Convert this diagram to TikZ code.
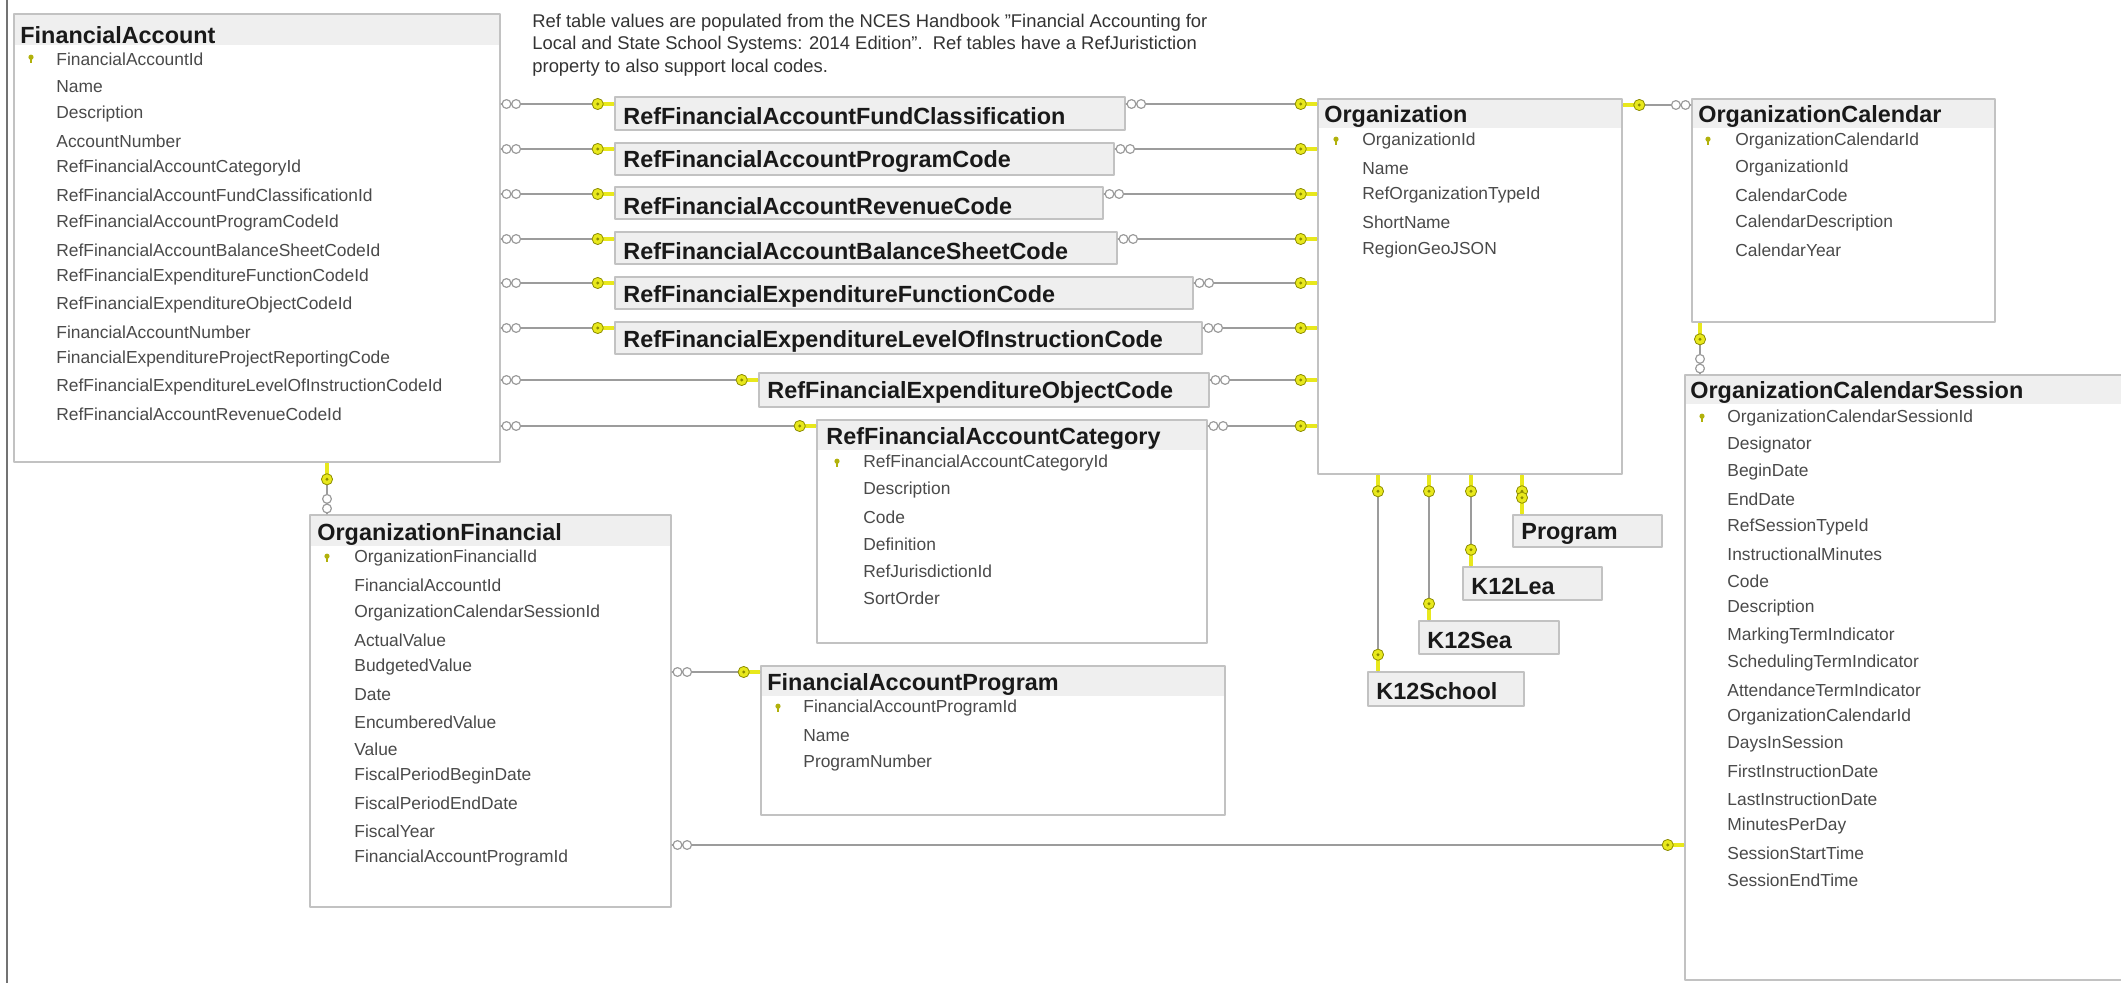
\documentclass[tikz,border=0pt]{standalone}
\usepackage{fontspec}
\setmainfont{Liberation Sans}
\usetikzlibrary{fit,calc}

\definecolor{keyyel}{HTML}{E8E81C}
\definecolor{keyedge}{HTML}{8C8C00}
\definecolor{relgray}{HTML}{9C9C9C}
\definecolor{boxgray}{HTML}{C2C2C2}
\definecolor{hdrgray}{HTML}{EFEFEF}
\definecolor{fldtext}{HTML}{4A4A4A}

\tikzset{
  tbl/.style={draw=boxgray, line width=1.3pt, fill=white, inner sep=0pt},
  reftbl/.style={tbl, fill=hdrgray},
  ttl/.style={font=\fontsize{11.7}{13}\selectfont\bfseries, text=black!90, inner sep=0pt, anchor=west},
  fld/.style={font=\fontsize{8.7}{10}\selectfont, text=fldtext, inner sep=0pt, anchor=west},
  note/.style={font=\fontsize{9.2}{11.1}\selectfont, text=black!80, inner sep=0pt, align=left},
  rel/.style={draw=relgray, line width=1pt},
  keyend/.pic={
    \fill[keyyel] (0,-1.1pt) rectangle (-6.5pt,1.1pt);
    \filldraw[fill=keyyel, draw=keyedge, line width=0.4pt] (-8pt,0) circle (2.8pt);
    \fill[keyedge] (-8pt,0) circle (0.8pt);
  },
  infend/.pic={
    \filldraw[fill=white, draw=relgray, line width=0.6pt] (2.6pt,0) circle (2.2pt) (7.4pt,0) circle (2.2pt);
  },
  pkicon/.pic={
    \fill[keyedge!60!keyyel] (0,0.9pt) circle (1.3pt);
    \fill[keyedge!60!keyyel] (-0.45pt,0.9pt) rectangle (0.45pt,-2.2pt);
  },
}

\begin{document}
\begin{tikzpicture}[x=0.5pt, y=-0.5pt, line cap=round, line join=round]
\useasboundingbox (0,0) rectangle (2121,983);
\fill[white] (0,0) rectangle (2121,983);
\draw[black!55, line width=1.2pt] (7,0) -- (7,983);

\node[note, anchor=north west] (note) at (532,14) {Ref table values are populated from the NCES Handbook "Financial Accounting for\\Local and State School Systems: 2014 Edition".\ \ Ref tables have a RefJuristiction\\property to also support local codes.};

% FinancialAccount
\node[tbl, fit={(14,14) (500,462)}] (fa) {};
\fill[hdrgray] ($(fa.north west)+(2,2)$) rectangle ($(fa.north east)+(-2,32)$);
\node[ttl] (fa-t) at (20,35) {FinancialAccount};
\pic at (31,59) {pkicon};
\foreach \f [count=\i from 0] in {FinancialAccountId, Name, Description, AccountNumber, RefFinancialAccountCategoryId, RefFinancialAccountFundClassificationId, RefFinancialAccountProgramCodeId, RefFinancialAccountBalanceSheetCodeId, RefFinancialExpenditureFunctionCodeId, RefFinancialExpenditureObjectCodeId, FinancialAccountNumber, FinancialExpenditureProjectReportingCode, RefFinancialExpenditureLevelOfInstructionCodeId, RefFinancialAccountRevenueCodeId}
  \node[fld] (fa-\i) at (56,59+27.3*\i) {\f};

% Organization
\node[tbl, fit={(1318,99) (1622,474)}] (org) {};
\fill[hdrgray] ($(org.north west)+(2,2)$) rectangle ($(org.north east)+(-2,30)$);
\node[ttl] (org-t) at (1324,117) {Organization};
\pic at (1336,141) {pkicon};
\foreach \f [count=\i from 0] in {OrganizationId, Name, RefOrganizationTypeId, ShortName, RegionGeoJSON}
  \node[fld] (org-\i) at (1362,141+27.2*\i) {\f};

% OrganizationCalendar
\node[tbl, fit={(1692,99) (1995,322)}] (ocal) {};
\fill[hdrgray] ($(ocal.north west)+(2,2)$) rectangle ($(ocal.north east)+(-2,30)$);
\node[ttl] (ocal-t) at (1698,117) {OrganizationCalendar};
\pic at (1708,141) {pkicon};
\foreach \f [count=\i from 0] in {OrganizationCalendarId, OrganizationId, CalendarCode, CalendarDescription, CalendarYear}
  \node[fld] (ocal-\i) at (1735,141+27.2*\i) {\f};

% OrganizationCalendarSession
\node[tbl, fit={(1685,375) (2140,980)}] (ocs) {};
\fill[hdrgray] ($(ocs.north west)+(2,2)$) rectangle ($(ocs.north east)+(-2,30)$);
\node[ttl] (ocs-t) at (1690,393) {OrganizationCalendarSession};
\pic at (1702,418) {pkicon};
\foreach \f [count=\i from 0] in {OrganizationCalendarSessionId, Designator, BeginDate, EndDate, RefSessionTypeId, InstructionalMinutes, Code, Description, MarkingTermIndicator, SchedulingTermIndicator, AttendanceTermIndicator, OrganizationCalendarId, DaysInSession, FirstInstructionDate, LastInstructionDate, MinutesPerDay, SessionStartTime, SessionEndTime}
  \node[fld] (ocs-\i) at (1727,418+27.2*\i) {\f};

% OrganizationFinancial
\node[tbl, fit={(310,515) (671,907)}] (of) {};
\fill[hdrgray] ($(of.north west)+(2,2)$) rectangle ($(of.north east)+(-2,32)$);
\node[ttl] (of-t) at (317,535) {OrganizationFinancial};
\pic at (327,558) {pkicon};
\foreach \f [count=\i from 0] in {OrganizationFinancialId, FinancialAccountId, OrganizationCalendarSessionId, ActualValue, BudgetedValue, Date, EncumberedValue, Value, FiscalPeriodBeginDate, FiscalPeriodEndDate, FiscalYear, FinancialAccountProgramId}
  \node[fld] (of-\i) at (354,558+27.3*\i) {\f};

% RefFinancialAccountCategory
\node[tbl, fit={(817,420) (1207,643)}] (cat) {};
\fill[hdrgray] ($(cat.north west)+(2,2)$) rectangle ($(cat.north east)+(-2,31)$);
\node[ttl] (cat-t) at (826,439) {RefFinancialAccountCategory};
\pic at (837,463) {pkicon};
\foreach \f [count=\i from 0] in {RefFinancialAccountCategoryId, Description, Code, Definition, RefJurisdictionId, SortOrder}
  \node[fld] (cat-\i) at (863,463+27.1*\i) {\f};

% FinancialAccountProgram
\node[tbl, fit={(761,666) (1225,815)}] (fap) {};
\fill[hdrgray] ($(fap.north west)+(2,2)$) rectangle ($(fap.north east)+(-2,31)$);
\node[ttl] (fap-t) at (767,685) {FinancialAccountProgram};
\pic at (778,708) {pkicon};
\foreach \f [count=\i from 0] in {FinancialAccountProgramId, Name, ProgramNumber}
  \node[fld] (fap-\i) at (803,708+27.5*\i) {\f};

% collapsed tables
\foreach \n/\xa/\ya/\xb/\yb/\s in {fund/615/97/1125/130/RefFinancialAccountFundClassification,
    prog/615/143/1114/175/RefFinancialAccountProgramCode,
    rev/615/187/1103/219/RefFinancialAccountRevenueCode,
    bal/615/232/1117/264/RefFinancialAccountBalanceSheetCode,
    func/615/277/1193/309/RefFinancialExpenditureFunctionCode,
    loi/615/322/1202/354/RefFinancialExpenditureLevelOfInstructionCode,
    obj/759/373/1209/407/RefFinancialExpenditureObjectCode,
    prgm/1513/515/1662/547/Program,
    lea/1463/567/1602/600/K12Lea,
    sea/1419/621/1559/654/K12Sea,
    school/1368/672/1524/706/K12School}{
  \node[reftbl, fit={(\xa,\ya) (\xb,\yb)}] (\n) {};
  \node[ttl] (\n-t) at (\xa+8,\ya+19) {\s};
}

% relationships
\foreach \n/\yy in {fund/104,prog/149,rev/194,bal/239,func/283,loi/328,obj/380,cat/426}{
  \coordinate (lv-\n) at (0,\yy);
  \draw[rel] (fa.east |- lv-\n) -- (\n.west |- lv-\n);
  \draw[rel] (\n.east |- lv-\n) -- (org.west |- lv-\n);
  \pic at (fa.east |- lv-\n) {infend};
  \pic at (\n.west |- lv-\n) {keyend};
  \pic at (\n.east |- lv-\n) {infend};
  \pic at (org.west |- lv-\n) {keyend};
}

\coordinate (lv-cal) at (0,105);
\draw[rel] (org.east |- lv-cal) -- (ocal.west |- lv-cal);
\pic[rotate=180] at (org.east |- lv-cal) {keyend};
\pic[rotate=180] at (ocal.west |- lv-cal) {infend};

\coordinate (lx-ses) at (1700,0);
\draw[rel] (ocal.south -| lx-ses) -- (ocs.north -| lx-ses);
\pic[rotate=90] at (ocal.south -| lx-ses) {keyend};
\pic[rotate=90] at (ocs.north -| lx-ses) {infend};

\coordinate (lx-of) at (327,0);
\draw[rel] (fa.south -| lx-of) -- (of.north -| lx-of);
\pic[rotate=90] at (fa.south -| lx-of) {keyend};
\pic[rotate=90] at (of.north -| lx-of) {infend};

\coordinate (lv-fap) at (0,672);
\draw[rel] (of.east |- lv-fap) -- (fap.west |- lv-fap);
\pic at (of.east |- lv-fap) {infend};
\pic at (fap.west |- lv-fap) {keyend};

\coordinate (lv-ocs) at (0,845);
\draw[rel] (of.east |- lv-ocs) -- (ocs.west |- lv-ocs);
\pic at (of.east |- lv-ocs) {infend};
\pic at (ocs.west |- lv-ocs) {keyend};

\foreach \n/\xx in {school/1378,sea/1429,lea/1471,prgm/1522}{
  \coordinate (lx-\n) at (\xx,0);
  \draw[rel] (org.south -| lx-\n) -- (\n.north -| lx-\n);
  \pic[rotate=90] at (org.south -| lx-\n) {keyend};
  \pic[rotate=-90] at (\n.north -| lx-\n) {keyend};
}
\end{tikzpicture}
\end{document}
